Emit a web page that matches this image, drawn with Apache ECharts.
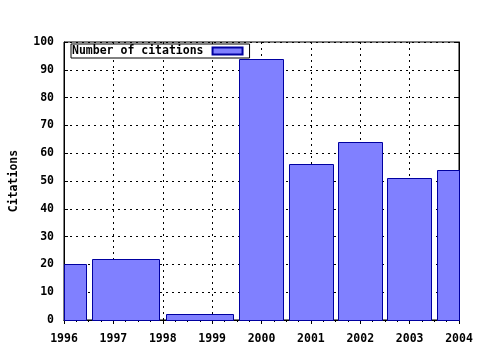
<!DOCTYPE html>
<html>
<head>
<meta charset="utf-8">
<script src="https://cdn.jsdelivr.net/npm/echarts@6/dist/echarts.min.js"></script>
<style>html,body{margin:0;padding:0;background:#fff}#c{width:480px;height:350px}</style>
</head>
<body>
<div id="c"></div>
<script>
var years = [1996, 1997, 1999, 2000, 2001, 2002, 2003, 2004];
var citations = [20, 22, 2, 94, 56, 64, 51, 54];
var xTicks = [1996, 1997, 1998, 1999, 2000, 2001, 2002, 2003, 2004];
var yTicks = [0, 10, 20, 30, 40, 50, 60, 70, 80, 90, 100];

var FONT = 'DejaVu Sans Mono';
var chart = echarts.init(document.getElementById('c'));
var data = years.map(function (y, i) { return [y, citations[i]]; });

function edges(i) {
  var n = years.length;
  var lo = i === 0 ? years[0] - (years[1] - years[0]) / 2 : (years[i - 1] + years[i]) / 2;
  var hi = i === n - 1 ? years[n - 1] + (years[n - 1] - years[n - 2]) / 2 : (years[i] + years[i + 1]) / 2;
  var c = (lo + hi) / 2, w = (hi - lo) * 0.9;
  return [c - w / 2, c + w / 2];
}

var labelStyle = { fontFamily: FONT, fontWeight: 'bold', fontSize: 11.5, color: '#000' };

chart.setOption({
  animation: false,
  backgroundColor: '#fff',
  grid: { left: 64, right: 21, top: 42, bottom: 30, show: true, borderColor: '#000', borderWidth: 1, backgroundColor: 'transparent' },
  legend: {
    left: 71, top: 44,
    align: 'right',
    padding: [1, 6, 1, 1],
    itemWidth: 30, itemHeight: 7,
    borderColor: '#000', borderWidth: 1,
    backgroundColor: '#fff',
    textStyle: {
      fontFamily: FONT, fontWeight: 'bold', fontSize: 11.5, color: '#000',
      padding: [0, 4, 0, 0]
    },
    data: [{ name: 'Number of citations', icon: 'rect' }]
  },
  xAxis: [{
    type: 'value', min: xTicks[0], max: xTicks[xTicks.length - 1], interval: 1,
    position: 'bottom',
    axisLine: { show: true, lineStyle: { color: '#000', width: 1 } },
    axisTick: { show: true, inside: false, length: 4, lineStyle: { color: '#000' } },
    minorTick: { show: true, splitNumber: 4, length: 2, lineStyle: { color: '#000' } },
    axisLabel: Object.assign({ margin: 13, formatter: function (v) { return String(v); } }, labelStyle),
    splitLine: { show: true, lineStyle: { color: '#000', type: [2, 4], width: 1 } }
  }, {
    type: 'value', min: xTicks[0], max: xTicks[xTicks.length - 1], interval: 1,
    position: 'top',
    axisLine: { show: true, lineStyle: { color: '#000', width: 1 } },
    axisTick: { show: true, inside: true, length: 4, lineStyle: { color: '#000' } },
    minorTick: { show: true, splitNumber: 4, length: 2, lineStyle: { color: '#000' } },
    axisLabel: { show: false },
    splitLine: { show: false }
  }],
  yAxis: [{
    type: 'value', min: yTicks[0], max: yTicks[yTicks.length - 1], interval: 10,
    position: 'left',
    name: 'Citations', nameLocation: 'middle', nameRotate: 90, nameGap: 44,
    nameTextStyle: labelStyle,
    axisLine: { show: true, lineStyle: { color: '#000', width: 1 } },
    axisTick: { show: true, inside: true, length: 4, lineStyle: { color: '#000' } },
    axisLabel: Object.assign({ margin: 10 }, labelStyle),
    splitLine: { show: true, lineStyle: { color: '#000', type: [2, 4], width: 1 } }
  }, {
    type: 'value', min: yTicks[0], max: yTicks[yTicks.length - 1], interval: 10,
    position: 'right',
    axisLine: { show: true, lineStyle: { color: '#000', width: 1 } },
    axisTick: { show: true, inside: true, length: 4, lineStyle: { color: '#000' } },
    axisLabel: { show: false },
    splitLine: { show: false }
  }],
  series: [{
    name: 'Number of citations',
    type: 'custom',
    xAxisIndex: 0, yAxisIndex: 0,
    itemStyle: { color: '#8080ff', borderColor: '#0000a0', borderWidth: 1 },
    data: data,
    z: 3,
    renderItem: function (params, api) {
      var e = edges(params.dataIndex);
      var p0 = api.coord([e[0], api.value(1)]);
      var p1 = api.coord([e[1], 0]);
      var cs = params.coordSys;
      var rect = echarts.graphic.clipRectByRect(
        { x: p0[0], y: p0[1], width: p1[0] - p0[0], height: p1[1] - p0[1] },
        { x: cs.x, y: cs.y, width: cs.width, height: cs.height });
      if (!rect) return null;
      return {
        type: 'rect',
        shape: { x: Math.round(rect.x) + 0.5, y: Math.round(rect.y) + 0.5, width: Math.round(rect.width), height: Math.round(rect.height) },
        style: { fill: '#8080ff', stroke: '#0000a0', lineWidth: 1 }
      };
    }
  }]
});
</script>
</body>
</html>
